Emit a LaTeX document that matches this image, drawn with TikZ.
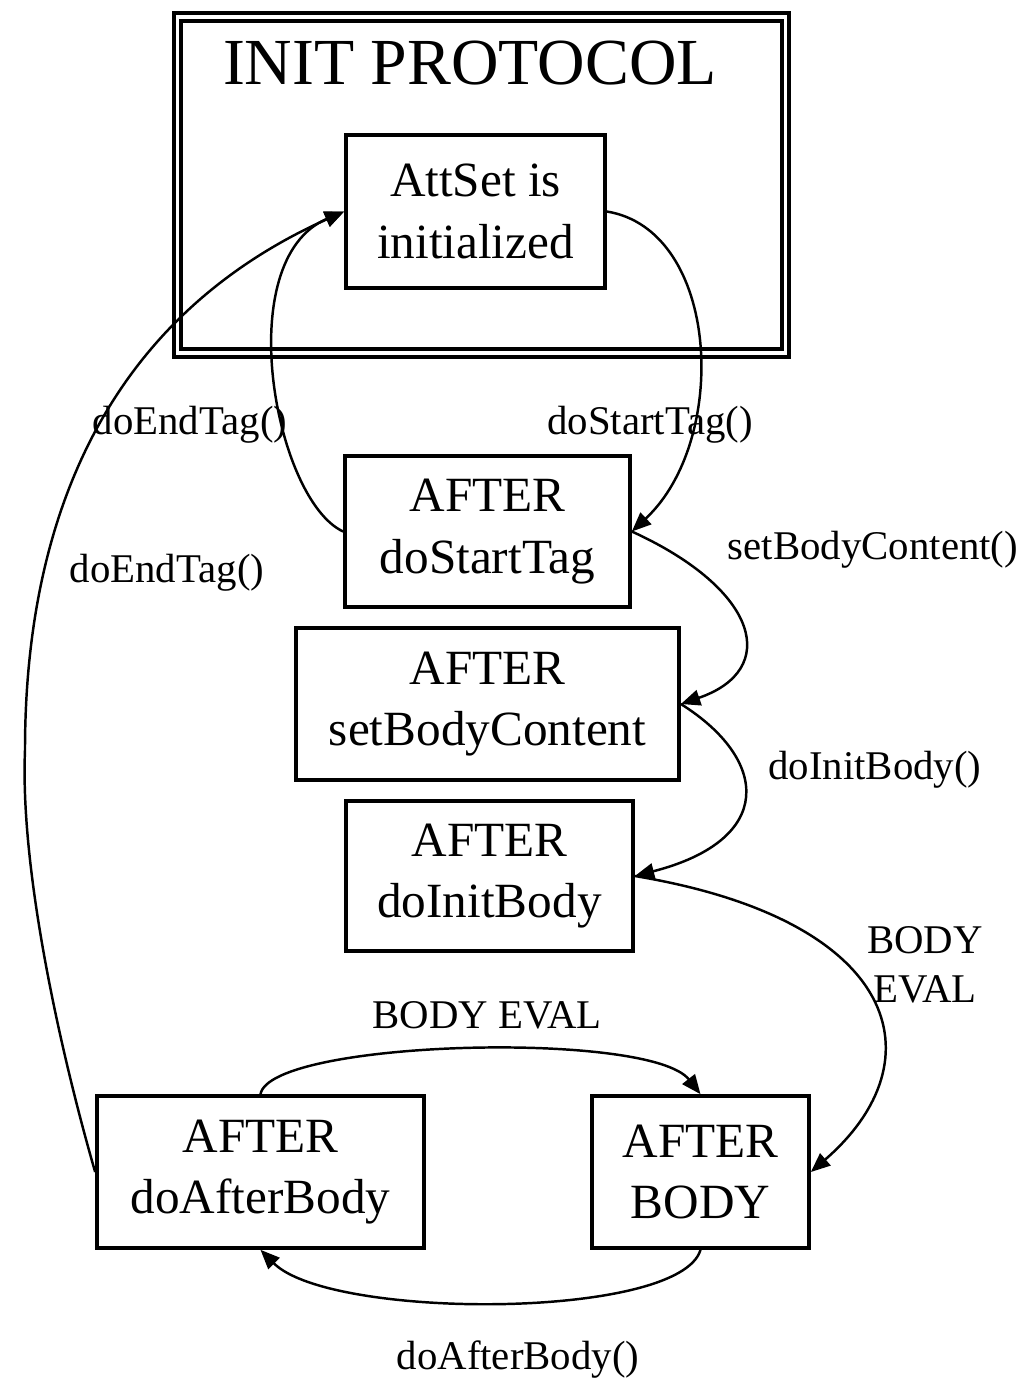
\documentclass[tikz,border=0pt]{standalone}
\usepackage{fontspec}
\setmainfont{Liberation Serif}
\usetikzlibrary{arrows.meta}
\begin{document}
\begin{tikzpicture}[x=0.01cm,y=-0.01cm,
  state/.style={draw,line width=1pt,inner sep=0pt,align=center,font=\fontsize{14}{17.6}\selectfont},
  edge/.style={line width=0.7pt,-{Triangle[length=5.5pt,width=4.5pt]}},
  elabel/.style={inner sep=0pt,align=center,font=\fontsize{11.6}{14}\selectfont}]
\useasboundingbox (0,0) rectangle (1025,1382);
\fill[white] (0,0) rectangle (1025,1382);
% cluster
\draw[line width=1pt] (174,13) rectangle (789,357);
\draw[line width=1pt] (181,21) rectangle (782,349);
\node[inner sep=0pt,font=\fontsize{18.7}{22}\selectfont] (title) at (470,63) {INIT PROTOCOL};
% states
\node[state,minimum width=2.59cm,minimum height=1.53cm] (att) at (475.5,211.5) {AttSet is\\initialized};
\node[state,minimum width=2.85cm,minimum height=1.51cm] (dst) at (487.5,531.5) {AFTER\\doStartTag};
\node[state,minimum width=3.83cm,minimum height=1.52cm] (sbc) at (487.5,704) {AFTER\\setBodyContent};
\node[state,minimum width=2.87cm,minimum height=1.50cm] (dib) at (489.5,876) {AFTER\\doInitBody};
\node[state,minimum width=3.27cm,minimum height=1.52cm] (dab) at (260.5,1172) {AFTER\\doAfterBody};
\node[state,minimum width=2.17cm,minimum height=1.52cm] (ab) at (700.5,1172) {AFTER\\BODY};
\coordinate (bend) at (25,750);
% edges
\draw[edge] (att.east) .. controls (720,230) and (730,440) .. (dst.east);
\draw[edge] (dst.west) .. controls (275,500) and (230,260) .. (att.west);
\draw[edge] (dab.west) .. controls (60,1050) and (20,870) .. (bend) .. controls (25,560) and (80,330) .. (att.west);
\draw[edge] (dst.east) .. controls (760,590) and (780,670) .. (sbc.east);
\draw[edge] (sbc.east) .. controls (770,760) and (775,840) .. (dib.east);
\draw[edge] (dib.east) .. controls (900,920) and (940,1060) .. (ab.east);
\draw[edge] (dab.north) .. controls (270,1040) and (650,1030) .. (ab.north);
\draw[edge] (ab.south) .. controls (680,1320) and (330,1320) .. (dab.south);
% labels
\node[elabel] (l1) at (650,425) {doStartTag()};
\node[elabel] (l2) at (190,425) {doEndTag()};
\node[elabel] (l3) at (167,573) {doEndTag()};
\node[elabel] (l4) at (873,550) {setBodyContent()};
\node[elabel] (l5) at (875,770) {doInitBody()};
\node[elabel] (l6) at (925,965) {BODY\\EVAL};
\node[elabel] (l7) at (487,1015) {BODY EVAL};
\node[elabel] (l8) at (518,1360) {doAfterBody()};
\end{tikzpicture}
\end{document}
